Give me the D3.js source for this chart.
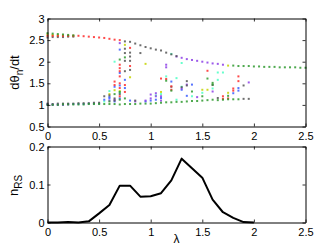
<!DOCTYPE html>
<html>
<head>
<meta charset="utf-8">
<script src="https://cdn.jsdelivr.net/npm/d3@7"></script>
<style>
  body { margin: 0; background: #fff; }
  svg { display: block; font-family: "Liberation Sans", Arial, sans-serif; }
</style>
</head>
<body>
<div id="chart"></div>
<script>
// tick labels
var xTicks = [0, 0.5, 1, 1.5, 2, 2.5];
var yTicksTop = [0.5, 1, 1.5, 2, 2.5, 3];
var yTicksBot = [0, 0.1, 0.2];

// bottom panel: n_RS vs lambda
var nrsLambda = [0, 0.1, 0.2, 0.3, 0.4, 0.5, 0.6, 0.7, 0.8, 0.9, 1.0, 1.1, 1.2, 1.3, 1.4, 1.5, 1.6, 1.7, 1.8, 1.9, 2.0];
var nrsValue  = [0, 0, 0.001, 0, 0.003, 0.024, 0.046, 0.097, 0.097, 0.068, 0.069, 0.077, 0.111, 0.168, 0.143, 0.118, 0.06, 0.027, 0.012, 0.001, 0];

// top panel: d(theta_n)/dt, one list of [lambda, value] per colour
var redPts = [
  [0, 2.6], [0.05, 2.6], [0.1, 2.6], [0.15, 2.6], [0.2, 2.6], [0.25, 2.6], [0.3, 2.6], [0.35, 2.59], [0.4, 2.58],
  [0.45, 2.57], [0.5, 2.56], [0.55, 2.55], [0.6, 2.53], [0.65, 2.51], [0.7, 2.5],
  [0.65, 1.54], [0.65, 1.46], [0.7, 1.93], [0.7, 1.85], [0.7, 1.78], [0.7, 1.66], [0.7, 1.5], [0.7, 1.39], [0.7, 1.2],
  [0.75, 1.46], [0.75, 1.3], [0.8, 2.32], [0.8, 1.9], [1.1, 1.61], [1.15, 1.6], [1.2, 1.43], [1.2, 1.35],
  [1.55, 1.79], [1.7, 1.2], [1.7, 1.14], [1.75, 1.15], [1.8, 1.38], [1.8, 1.33], [1.85, 1.66], [1.85, 1.55]
];
var greenPts = [
  [0, 2.66], [0.05, 2.65], [0.1, 2.64], [0.15, 2.63], [0.2, 2.62], [0.25, 2.61],
  [1.8, 1.91], [1.85, 1.9], [1.9, 1.9], [1.95, 1.9], [2.0, 1.89], [2.05, 1.89], [2.1, 1.88], [2.15, 1.88],
  [2.2, 1.88], [2.25, 1.87], [2.3, 1.87], [2.35, 1.87], [2.4, 1.87], [2.45, 1.86], [2.5, 1.86],
  [0, 1.0], [0.05, 1.0], [0.1, 1.0], [0.15, 1.01], [0.2, 1.01], [0.25, 1.01], [0.3, 1.01], [0.35, 1.01], [0.4, 1.02],
  [0.45, 1.02], [0.5, 1.02], [0.55, 1.02], [0.6, 1.02], [0.65, 1.02], [0.7, 1.01], [0.75, 1.02], [0.8, 1.02],
  [0.85, 1.02], [0.9, 1.03], [0.95, 1.03], [1.0, 1.03], [1.05, 1.04], [1.1, 1.05], [1.15, 1.06], [1.2, 1.06],
  [1.25, 1.07], [1.3, 1.07], [1.35, 1.08], [1.4, 1.09], [1.45, 1.09], [1.5, 1.1], [1.55, 1.11], [1.6, 1.12],
  [1.65, 1.11], [1.7, 1.12], [1.75, 1.13], [1.8, 1.13], [1.85, 1.13],
  [0.7, 2.05], [0.75, 2.1], [0.65, 1.25], [0.7, 1.3], [0.6, 1.08], [1.2, 1.33], [1.15, 1.56], [1.55, 1.61],
  [1.6, 1.51], [1.6, 1.47], [1.75, 1.21], [1.5, 1.2], [1.4, 1.31], [0.75, 1.15], [0.7, 1.12]
];
var grayPts = [
  [0, 2.56], [0.05, 2.57], [0.1, 2.57], [0.15, 2.57], [0.2, 2.58], [0.25, 2.58],
  [0.75, 2.47], [0.8, 2.46], [0.85, 2.42], [0.9, 2.38], [0.95, 2.34], [1.0, 2.31], [1.05, 2.28], [1.1, 2.26],
  [1.15, 2.21], [1.2, 2.17], [1.25, 2.13],
  [0, 1.03], [0.05, 1.02], [0.1, 1.03], [0.15, 1.03], [0.2, 1.03], [0.25, 1.03], [0.3, 1.04], [0.35, 1.04],
  [0.4, 1.04], [0.45, 1.05], [0.5, 1.05], [1.9, 1.14], [1.95, 1.14],
  [0.55, 1.2], [0.6, 1.22], [0.65, 1.15], [0.75, 2.3], [0.75, 2.2], [0.75, 2.02], [0.75, 1.78], [0.8, 2.21],
  [0.8, 2.12], [0.8, 2.02], [0.8, 1.81], [0.9, 2.2], [1.35, 1.55], [1.35, 1.45], [1.3, 1.41], [1.2, 1.42],
  [1.6, 1.46], [1.65, 1.16], [1.9, 1.45], [0.7, 1.25], [0.85, 1.1], [0.65, 1.1]
];
var bluePts = [
  [0, 1.01], [0.05, 1.01], [0.1, 1.01], [0.15, 1.01], [0.2, 1.02], [0.25, 1.02], [0.3, 1.02], [0.35, 1.02],
  [0.4, 1.03], [0.45, 1.03], [0.5, 1.03],
  [0.55, 1.12], [0.6, 1.15], [0.65, 1.42], [0.65, 1.08], [0.7, 2.28], [0.7, 1.74], [0.7, 1.45], [0.75, 1.39],
  [0.75, 1.58], [0.8, 1.1], [0.95, 1.08], [1.0, 1.1], [1.05, 1.12], [1.1, 1.16], [1.2, 1.54], [1.3, 1.35],
  [1.35, 1.21], [1.4, 1.47], [1.8, 1.27], [1.85, 1.39], [1.85, 1.33], [0.6, 1.18], [0.7, 1.15]
];
var purplePts = [
  [1.25, 2.12], [1.3, 2.09], [1.35, 2.06], [1.4, 2.04], [1.45, 2.02], [1.5, 2.0], [1.55, 1.98], [1.6, 1.96],
  [1.65, 1.95], [1.7, 1.93],
  [0, 1.01], [0.05, 1.0], [0.1, 1.0], [0.15, 1.0], [0.2, 1.01],
  [0.6, 1.1], [0.7, 2.43], [0.85, 1.08], [0.95, 1.1], [1.0, 1.24], [1.0, 1.15], [1.05, 1.2], [1.05, 1.27],
  [1.1, 1.2], [1.15, 1.93], [1.15, 1.87], [1.3, 1.38], [1.35, 1.47], [1.6, 1.31], [1.95, 1.52], [1.45, 1.18],
  [1.1, 1.1], [0.65, 1.12]
];
var cyanPts = [
  [0.6, 1.32], [0.65, 2.0], [0.7, 1.28], [1.05, 1.22], [1.1, 1.25], [1.15, 1.66], [1.2, 2.18], [1.25, 1.62],
  [1.3, 1.97], [1.3, 1.42], [1.4, 1.2], [1.5, 1.28], [1.6, 1.38], [1.65, 1.75], [1.7, 1.75], [1.65, 1.58],
  [0.55, 1.08], [1.25, 1.12]
];
var yellowPts = [
  [0, 2.63], [0.05, 2.62], [0.1, 2.61], [0.15, 2.61], [0.2, 2.6], [0.25, 2.6], [1.75, 1.91],
  [0.65, 1.34], [0.7, 1.32], [0.75, 2.39], [0.8, 1.64], [0.95, 1.95], [1.1, 1.3], [1.5, 1.35], [1.55, 1.35],
  [1.75, 1.28], [0.6, 1.25]
];

var series = [
  {pts: yellowPts, color: "#c4d400"},
  {pts: cyanPts, color: "#4dffc4"},
  {pts: bluePts, color: "#3a5cff"},
  {pts: purplePts, color: "#8c3ee6"},
  {pts: grayPts, color: "#555555"},
  {pts: redPts, color: "#ff2a2a"},
  {pts: greenPts, color: "#2f9a2f"}
];

var width = 333, height = 251;
var left = 47.5, right = 305.5;
var topPanel = {y0: 126.5, y1: 18.5};
var botPanel = {y0: 222.5, y1: 146.5};
var tick = 3;

var svg = d3.select("#chart").append("svg")
    .attr("width", width)
    .attr("height", height);

var x = d3.scaleLinear().domain([0, 2.5]).range([left, right]);
var yTop = d3.scaleLinear().domain([0.5, 3]).range([topPanel.y0, topPanel.y1]);
var yBot = d3.scaleLinear().domain([0, 0.2]).range([botPanel.y0, botPanel.y1]);

// draw a matlab-like boxed axes with inward ticks on all sides
function drawFrame(y, yTicks, yFmt, panel) {
    var g = svg.append("g");
    g.append("g")
        .attr("transform", "translate(0," + panel.y0 + ")")
        .call(d3.axisBottom(x).tickValues(xTicks).tickFormat(d3.format("")).tickSizeInner(-tick).tickSizeOuter(0).tickPadding(5.5));
    g.append("g")
        .attr("transform", "translate(0," + panel.y1 + ")")
        .call(d3.axisTop(x).tickValues(xTicks).tickFormat("").tickSizeInner(-tick).tickSizeOuter(0));
    g.append("g")
        .attr("transform", "translate(" + left + ",0)")
        .call(d3.axisLeft(y).tickValues(yTicks).tickFormat(yFmt).tickSizeInner(-tick).tickSizeOuter(0).tickPadding(3));
    g.append("g")
        .attr("transform", "translate(" + right + ",0)")
        .call(d3.axisRight(y).tickValues(yTicks).tickFormat("").tickSizeInner(-tick).tickSizeOuter(0));
    g.selectAll(".domain").style("stroke", "#000").style("stroke-width", 1);
    g.selectAll(".tick line").style("stroke", "#000").style("stroke-width", 0.8);
    g.selectAll("text").style("font-size", "11px").style("fill", "#000");
    return g;
}

// scatter points
series.forEach(function(s) {
    svg.append("g").selectAll("rect")
        .data(s.pts)
        .enter().append("rect")
        .attr("x", function(d) { return x(d[0]) - 1; })
        .attr("y", function(d) { return yTop(d[1]) - 1; })
        .attr("width", 2)
        .attr("height", 2)
        .style("fill", s.color)
        .style("opacity", 0.85);
});

drawFrame(yTop, yTicksTop, d3.format(""), topPanel);
drawFrame(yBot, yTicksBot, d3.format(""), botPanel);

// n_RS line
var line = d3.line()
    .x(function(d, i) { return x(nrsLambda[i]); })
    .y(function(d) { return yBot(d); });

svg.append("path")
    .datum(nrsValue)
    .attr("d", line)
    .style("fill", "none")
    .style("stroke", "#000")
    .style("stroke-width", 2)
    .style("stroke-linejoin", "round");

// axis titles
var t1 = svg.append("text")
    .attr("transform", "translate(19," + (topPanel.y0 + topPanel.y1) / 2 + ") rotate(-90)")
    .style("text-anchor", "middle")
    .style("font-size", "13px");
t1.append("tspan").text("dθ");
t1.append("tspan").attr("dy", 4).style("font-size", "10px").text("n");
t1.append("tspan").attr("dy", -4).text("/dt");

var t2 = svg.append("text")
    .attr("transform", "translate(18," + ((botPanel.y0 + botPanel.y1) / 2 + 1) + ") rotate(-90)")
    .style("text-anchor", "middle")
    .style("font-size", "13px");
t2.append("tspan").text("n");
t2.append("tspan").attr("dy", 4).style("font-size", "10px").text("RS");

svg.append("text")
    .attr("x", (left + right) / 2)
    .attr("y", 243)
    .style("text-anchor", "middle")
    .style("font-size", "12px")
    .text("λ");
</script>
</body>
</html>
